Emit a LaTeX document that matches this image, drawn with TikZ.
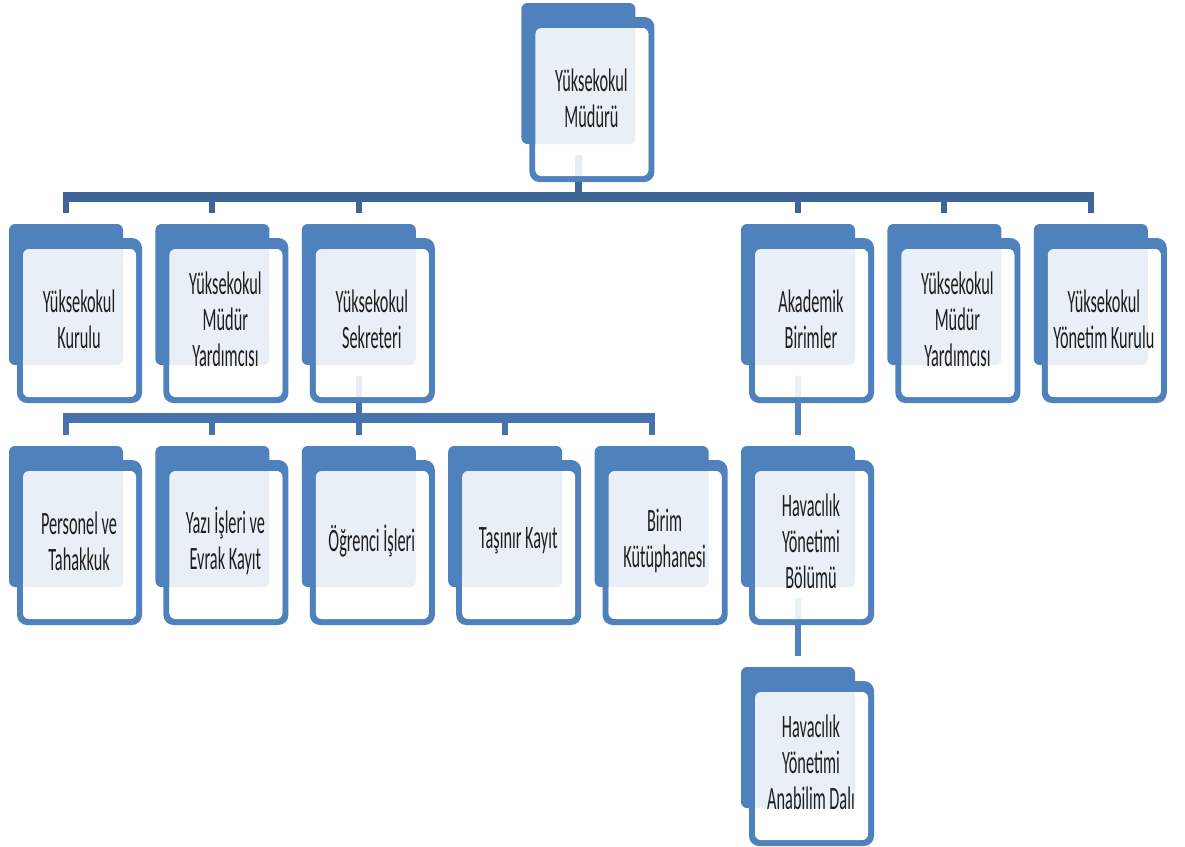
\documentclass[tikz,border=0pt]{standalone}
\usepackage{fontspec}
\newfontfamily\cf[FakeStretch=0.5]{Carlito}
\usetikzlibrary{backgrounds}
\definecolor{bk}{HTML}{4F81BD}
\definecolor{busdark}{HTML}{3F6497}
\definecolor{busmid}{HTML}{4673AD}
\definecolor{txt}{HTML}{1E1E1E}
\tikzset{
  lbl/.style={font=\cf\fontsize{32.6}{36}\selectfont, align=center, inner sep=0pt, text=txt},
  busline/.style={line width=10pt, shorten <=-3pt, shorten >=-3pt},
  dropline/.style={line width=6pt},
  vline/.style={line width=7pt},
}
\newcommand\orgbox[4]{%
  \fill[bk, rounded corners=6pt] (#2,#3) rectangle ++(114,141);
  \fill[bk, even odd rule] {[rounded corners=10pt] (#2+8,#3+14) rectangle ++(125,165)} {[rounded corners=6pt] (#2+14,#3+25) rectangle ++(113,148)};
  \fill[white, fill opacity=.88, rounded corners=6pt] (#2+14,#3+25) rectangle ++(113,148);
  \node[lbl] (#1) at (#2+70,#3+95) {#4};
  \coordinate (#1-in) at (#2+57,#3+152);
  \coordinate (#1-up) at (#2+57,#3-11);
}
\begin{document}
\begin{tikzpicture}[x=1pt,y=-1pt]
\useasboundingbox (0,0) rectangle (1185,846);
% row 0
\orgbox{mudur}{521.4}{3}{Yüksekokul\\Müdürü}
% row 1
\orgbox{kurulu}{9}{224}{Yüksekokul\\Kurulu}
\orgbox{myardA}{155.4}{224}{Yüksekokul\\Müdür\\Yardımcısı}
\orgbox{sekreter}{301.8}{224}{Yüksekokul\\Sekreteri}
\orgbox{akademik}{741}{224}{Akademik\\Birimler}
\orgbox{myardB}{887.4}{224}{Yüksekokul\\Müdür\\Yardımcısı}
\orgbox{ymk}{1033.8}{224}{Yüksekokul\\Yönetim Kurulu}
% row 2
\orgbox{personel}{9}{446}{Personel ve\\Tahakkuk}
\orgbox{yazi}{155.4}{446}{Yazı İşleri ve\\Evrak Kayıt}
\orgbox{ogrenci}{301.8}{446}{Öğrenci İşleri}
\orgbox{tasinir}{448.2}{446}{Taşınır Kayıt}
\orgbox{kutup}{594.6}{446}{Birim\\Kütüphanesi}
\orgbox{havb}{741}{446}{Havacılık\\Yönetimi\\Bölümü}
% row 3
\orgbox{hava}{741}{667}{Havacılık\\Yönetimi\\Anabilim Dalı}
% connectors
\begin{scope}[on background layer]
  \coordinate (bus1) at (0,197);
  \coordinate (bus2) at (0,418);
  \draw[busdark, vline] (mudur-in) -- (mudur-in |- bus1);
  \draw[busdark, busline] (kurulu-up |- bus1) -- (ymk-up |- bus1);
  \foreach \n in {kurulu,myardA,sekreter,akademik,myardB,ymk}
    \draw[busdark, dropline] (\n-up |- bus1) -- (\n-up);
  \draw[busmid, dropline] (sekreter-in) -- (sekreter-in |- bus2);
  \draw[busmid, busline] (personel-up |- bus2) -- (kutup-up |- bus2);
  \foreach \n in {personel,yazi,ogrenci,tasinir,kutup}
    \draw[busmid, dropline] (\n-up |- bus2) -- (\n-up);
  \draw[bk, dropline] (akademik-in) -- (havb-up);
  \draw[bk, dropline] (havb-in) -- (hava-up);
\end{scope}
\end{tikzpicture}
\end{document}
